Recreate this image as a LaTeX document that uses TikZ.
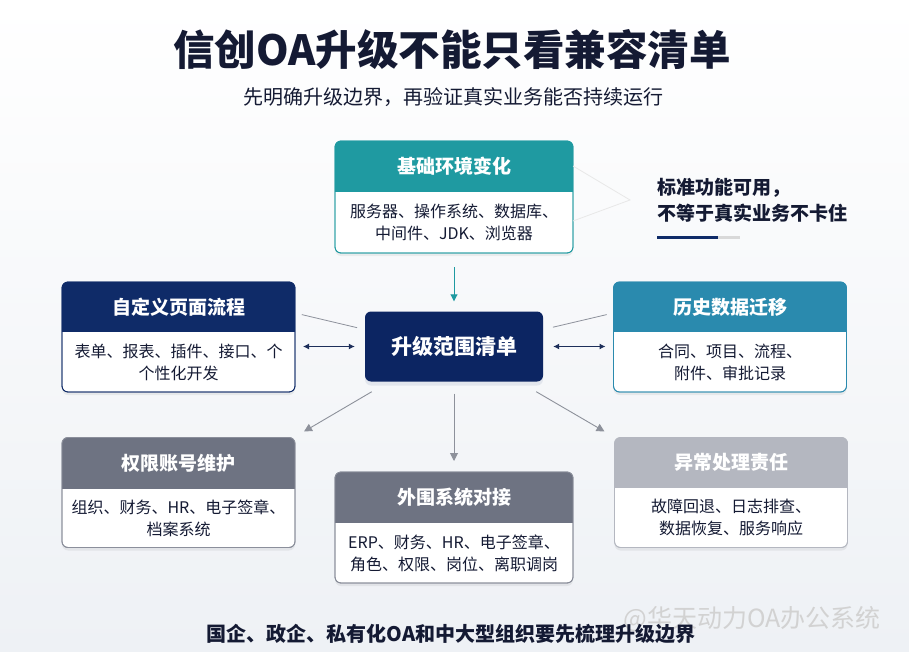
\documentclass[tikz,border=0pt]{standalone}
\usepackage{fontspec}
\setmainfont{Noto Sans CJK SC}
\usetikzlibrary{arrows.meta,shadows}

\definecolor{inkdark}{HTML}{141A33}
\definecolor{bgbottom}{HTML}{EEF1F5}
\definecolor{tealhdr}{HTML}{1F9AA1}
\definecolor{bluehdr}{HTML}{2A8AAE}
\definecolor{navyhdr}{HTML}{0F2B68}
\definecolor{hubnavy}{HTML}{0C2562}
\definecolor{grayhdr}{HTML}{6E7382}
\definecolor{lighthdr}{HTML}{B4B7C0}
\definecolor{arrownavy}{HTML}{1D2F5A}
\definecolor{arrowgray}{HTML}{8D919B}

\begin{document}
\begin{tikzpicture}[x=1pt, y=-1pt,
  card/.style={draw=#1, fill=white, line width=0.8pt, rounded corners=6pt,
    inner sep=0pt, outer sep=0pt,
    drop shadow={shadow xshift=0pt, shadow yshift=-3pt, opacity=0.06, fill=black}},
  hdrtext/.style={text=white, font=\bfseries\fontsize{19}{19}\selectfont},
  bodytext/.style={text=inkdark, align=center, font=\fontsize{16}{22}\selectfont},
  navyarrow/.style={{Latex[length=6pt,width=6pt]}-{Latex[length=6pt,width=6pt]}, arrownavy, line width=1pt},
  grayarrow/.style={-{Triangle[length=8pt,width=8pt]}, arrowgray, line width=0.9pt},
  faintline/.style={arrowgray, line width=0.8pt}]

% Page and background
\useasboundingbox (0,0) rectangle (909,652);
\shade[top color=white, bottom color=bgbottom] (0,0) rectangle (909,652);

% Headline
\node[text=inkdark, font=\bfseries\fontsize{41.5}{41.5}\selectfont] (title) at (452,50) {信创OA升级不能只看兼容清单};
\node[text=inkdark, font=\fontsize{20}{20}\selectfont] (subtitle) at (453,97) {先明确升级边界，再验证真实业务能否持续运行};

% Top card
\node[card=tealhdr, minimum width=238pt, minimum height=112pt] (env) at (454,197) {};
\begin{scope}
  \clip[rounded corners=6pt] (env.south west) rectangle (env.north east);
  \fill[tealhdr] (env.north west) rectangle ([yshift=-51pt]env.north east);
\end{scope}
\draw[tealhdr, line width=0.8pt, rounded corners=6pt] (env.south west) rectangle (env.north east);
\node[hdrtext] (env-t) at ([yshift=-25.5pt]env.north) {基础环境变化};
\node[bodytext] (env-b) at ([yshift=30.5pt]env.south) {服务器、操作系统、数据库、\\中间件、JDK、浏览器};

% Left card
\node[card=navyhdr, minimum width=233pt, minimum height=110pt] (custom) at (178.5,337) {};
\begin{scope}
  \clip[rounded corners=6pt] (custom.south west) rectangle (custom.north east);
  \fill[navyhdr] (custom.north west) rectangle ([yshift=-50pt]custom.north east);
\end{scope}
\draw[navyhdr, line width=0.8pt, rounded corners=6pt] (custom.south west) rectangle (custom.north east);
\node[hdrtext] (custom-t) at ([yshift=-25pt]custom.north) {自定义页面流程};
\node[bodytext] (custom-b) at ([yshift=30pt]custom.south) {表单、报表、插件、接口、个\\个性化开发};

% Right card
\node[card=bluehdr, minimum width=233pt, minimum height=110pt] (hist) at (730,337) {};
\begin{scope}
  \clip[rounded corners=6pt] (hist.south west) rectangle (hist.north east);
  \fill[bluehdr] (hist.north west) rectangle ([yshift=-50pt]hist.north east);
\end{scope}
\draw[bluehdr, line width=0.8pt, rounded corners=6pt] (hist.south west) rectangle (hist.north east);
\node[hdrtext] (hist-t) at ([yshift=-25pt]hist.north) {历史数据迁移};
\node[bodytext] (hist-b) at ([yshift=30pt]hist.south) {合同、项目、流程、\\附件、审批记录};

% Center box
\node[fill=hubnavy, rounded corners=6pt, minimum width=178pt, minimum height=70pt,
  text=white, font=\bfseries\fontsize{21}{21}\selectfont,
  drop shadow={shadow xshift=0pt, shadow yshift=-4pt, opacity=0.08, fill=hubnavy}] (hub) at (454,346.5) {升级范围清单};

% Bottom left card
\node[card=grayhdr, minimum width=233pt, minimum height=110pt] (perm) at (178.5,492.5) {};
\begin{scope}
  \clip[rounded corners=6pt] (perm.south west) rectangle (perm.north east);
  \fill[grayhdr] (perm.north west) rectangle ([yshift=-51pt]perm.north east);
\end{scope}
\draw[grayhdr!80, line width=0.8pt, rounded corners=6pt] (perm.south west) rectangle (perm.north east);
\node[hdrtext] (perm-t) at ([yshift=-25.5pt]perm.north) {权限账号维护};
\node[bodytext] (perm-b) at ([yshift=29.5pt]perm.south) {组织、财务、HR、电子签章、\\档案系统};

% Bottom center card
\node[card=grayhdr, minimum width=238pt, minimum height=111pt] (ext) at (454,527.5) {};
\begin{scope}
  \clip[rounded corners=6pt] (ext.south west) rectangle (ext.north east);
  \fill[grayhdr] (ext.north west) rectangle ([yshift=-51pt]ext.north east);
\end{scope}
\draw[grayhdr!80, line width=0.8pt, rounded corners=6pt] (ext.south west) rectangle (ext.north east);
\node[hdrtext] (ext-t) at ([yshift=-25.5pt]ext.north) {外围系统对接};
\node[bodytext] (ext-b) at ([yshift=30pt]ext.south) {ERP、财务、HR、电子签章、\\角色、权限、岗位、离职调岗};

% Bottom right card
\node[card=lighthdr, minimum width=233pt, minimum height=110pt] (fault) at (731,492.5) {};
\begin{scope}
  \clip[rounded corners=6pt] (fault.south west) rectangle (fault.north east);
  \fill[lighthdr] (fault.north west) rectangle ([yshift=-50pt]fault.north east);
\end{scope}
\draw[lighthdr, line width=0.8pt, rounded corners=6pt] (fault.south west) rectangle (fault.north east);
\node[hdrtext] (fault-t) at ([yshift=-25pt]fault.north) {异常处理责任};
\node[bodytext] (fault-b) at ([yshift=30pt]fault.south) {故障回退、日志排查、\\数据恢复、服务响应};

% Connectors
\draw[-{Triangle[length=7pt,width=7pt]}, tealhdr, line width=0.9pt, shorten <=14pt, shorten >=10pt] (env) -- (hub);
\draw[navyarrow, shorten <=8pt, shorten >=10pt] (custom.east |- hub.west) -- (hub.west);
\draw[navyarrow, shorten <=10pt, shorten >=8pt] (hub.east) -- (hist.west |- hub.east);
\draw[faintline, shorten <=7pt, shorten >=8pt] ([yshift=24pt]custom.east) -- ([yshift=17pt]hub.west);
\draw[faintline, shorten <=10pt, shorten >=7pt] ([yshift=17pt]hub.east) -- ([yshift=24pt]hist.west);
\draw[grayarrow] ([xshift=7pt,yshift=-10pt]hub.south west) -- ([xshift=9pt,yshift=6pt]perm.north east);
\draw[grayarrow, shorten <=12pt, shorten >=11pt] (hub) -- (ext);
\draw[grayarrow] ([xshift=-7pt,yshift=-10pt]hub.south east) -- ([xshift=-10pt,yshift=6pt]fault.north west);

% Side note
\node[anchor=west, align=left, text=inkdark, font=\bfseries\fontsize{19}{26}\selectfont] (note) at (654,200) {标准功能可用，\\不等于真实业务不卡住};
\coordinate (notetip) at ([xshift=-24pt]note.west);
\draw[gray!18, line width=0.8pt] ([yshift=31pt]env.east) -- (notetip) -- ([yshift=-24pt]env.east);
\draw[navyhdr, line width=3pt] (657,237) -- (718,237);
\draw[gray!30, line width=3pt] (718,237) -- (740,237);

% Footer
\node[text=gray!35, font=\fontsize{25}{25}\selectfont] (mark) at (752,619) {@华天动力OA办公系统};
\node[text=inkdark, font=\bfseries\fontsize{20}{20}\selectfont] (foot) at (451,634) {国企、政企、私有化OA和中大型组织要先梳理升级边界};

\end{tikzpicture}
\end{document}
